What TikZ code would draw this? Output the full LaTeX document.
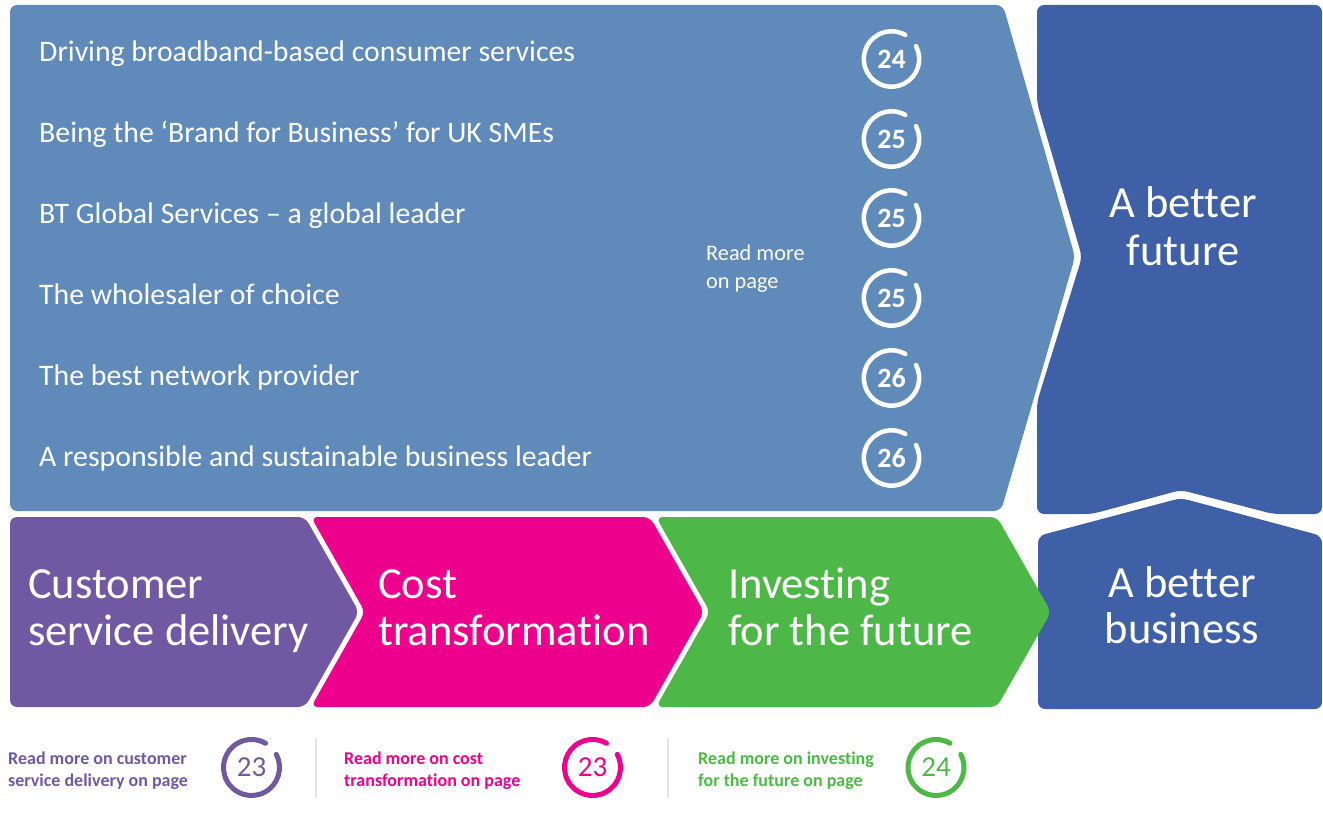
\documentclass[tikz,border=0pt]{standalone}
\usepackage{fontspec}
\setmainfont{Carlito}[Ligatures={NoCommon}]
\definecolor{lblue}{RGB}{95,138,186}
\definecolor{dblue}{RGB}{63,96,166}
\definecolor{purp}{RGB}{112,88,163}
\definecolor{pinkc}{RGB}{236,0,140}
\definecolor{grn}{RGB}{77,184,72}
\definecolor{sepc}{RGB}{228,228,228}
\tikzset{
  item/.style={anchor=base west, text=white, inner sep=0pt, font=\fontsize{29.8}{32}\selectfont},
  big/.style={anchor=base west, text=white, inner sep=0pt, font=\fontsize{44.5}{47}\selectfont},
  bigc/.style={anchor=base, text=white, inner sep=0pt, font=\fontsize{44.5}{47}\selectfont},
  small/.style={anchor=base west, text=white, inner sep=0pt, font=\fontsize{22.3}{28}\selectfont},
  lab/.style={anchor=base west, inner sep=0pt, font=\fontsize{18}{22}\selectfont\bfseries},
  topnum/.style={text=white, inner sep=0pt, font=\fontsize{28}{28}\selectfont\bfseries},
  botnum/.style={inner sep=0pt, font=\fontsize{29}{29}\selectfont},
  ring/.style={line width=4.5pt, line cap=round},
  panel/.style={rounded corners=7pt},
}
\begin{document}
\begin{tikzpicture}[x=1pt,y=-1pt]
\useasboundingbox (0,0) rectangle (1323,818);
% top light-blue arrow panel
\fill[lblue, panel] (10,5) -- (1003,5) -- (1075,257) -- (1001,511) -- (10,511) -- cycle;
% dark blue "A better future" panel
\fill[dblue, panel] (1037,5) -- (1322,5) -- (1322,514) -- (1273,514) -- (1181,490) -- (1092,514) -- (1037,514) -- (1037,402) -- (1082,257) -- (1037,103) -- cycle;
% dark blue "A better business" panel
\fill[dblue, panel] (1038,536) -- (1181,498) -- (1322,536) -- (1322,709) -- (1038,709) -- cycle;
% chevrons
\fill[purp, panel] (10,517) -- (305,517) -- (359,612) -- (305,707) -- (10,707) -- cycle;
\fill[pinkc, panel] (311,517) -- (650,517) -- (704,612) -- (650,707) -- (311,707) -- (365,612) -- cycle;
\fill[grn, panel] (656,517) -- (997,517) -- (1051,612) -- (997,707) -- (656,707) -- (710,612) -- cycle;

% top items
\node[item] (i1) at (39,62) {Driving broadband-based consumer services};
\node[item] (i2) at (39,143) {Being the ‘Brand for Business’ for UK SMEs};
\node[item] (i3) at (39,224) {BT Global Services – a global leader};
\node[item] (i4) at (39,305) {The wholesaler of choice};
\node[item] (i5) at (39,385) {The best network provider};
\node[item] (i6) at (39,466) {A responsible and sustainable business leader};

\node[small] (rm1) at (706,261) {Read more};
\node[small] (rm2) at (706,289) {on page};

% top page circles
\foreach \n/\y/\t in {c1/59/24, c2/139/25, c3/218/25, c4/298/25, c5/378/26, c6/458/26} {
  \node[topnum] (\n) at (891.5,\y) {\t};
  \draw[white, ring] (\n.center) ++(-28:27.7) arc[start angle=-28, end angle=300, radius=27.7];
}

% big labels
\node[big] (csd1) at (28,598) {Customer};
\node[big] (csd2) at (28,645) {service delivery};
\node[big] (ct1) at (378,598) {Cost};
\node[big] (ct2) at (378,645) {transformation};
\node[big] (iff1) at (728,598) {Investing};
\node[big] (iff2) at (728,645) {for the future};
\node[bigc] (bf1) at (1183,218) {A better};
\node[bigc] (bf2) at (1183,266) {future};
\node[bigc] (bb1) at (1182,597) {A better};
\node[bigc] (bb2) at (1182,643) {business};

% bottom read-more labels
\node[lab, text=purp] (l1a) at (8,764) {Read more on customer};
\node[lab, text=purp] (l1b) at (8,786) {service delivery on page};
\node[lab, text=pinkc] (l2a) at (344,764) {Read more on cost};
\node[lab, text=pinkc] (l2b) at (344,786) {transformation on page};
\node[lab, text=grn] (l3a) at (698,764) {Read more on investing};
\node[lab, text=grn] (l3b) at (698,786) {for the future on page};

\foreach \n/\x/\t/\c in {b1/251.5/23/purp, b2/592.5/23/pinkc, b3/936/24/grn} {
  \node[botnum, text=\c] (\n) at (\x,767.5) {\t};
  \draw[\c, ring, line width=5pt] (\n.center) ++(-28:28) arc[start angle=-28, end angle=300, radius=28];
}

% separators
\coordinate (s1t) at (316,738); \coordinate (s1b) at (316,798);
\coordinate (s2t) at (668,738); \coordinate (s2b) at (668,798);
\draw[sepc, line width=2pt] (s1t) -- (s1b);
\draw[sepc, line width=2pt] (s2t) -- (s2b);
\end{tikzpicture}
\end{document}
